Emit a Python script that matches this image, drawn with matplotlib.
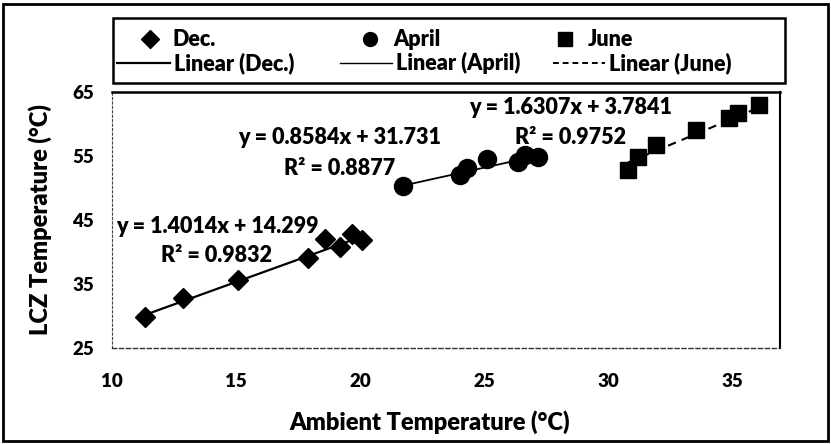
import matplotlib
matplotlib.use("Agg")
import matplotlib.pyplot as plt
from matplotlib.lines import Line2D
from matplotlib.patches import Rectangle
import numpy as np

plt.rcParams['font.family'] = ['Lato', 'DejaVu Sans']
FW = 'heavy'

# Data
dec_x = [11.33, 12.86, 15.08, 17.90, 18.59, 19.19, 19.68, 20.08]
dec_y = [29.84, 32.80, 35.60, 39.06, 42.00, 40.80, 42.80, 41.90]
apr_x = [21.73, 24.03, 24.31, 25.12, 26.33, 26.65, 27.14]
apr_y = [50.31, 52.03, 53.13, 54.53, 54.06, 55.16, 54.84]
jun_x = [30.77, 31.17, 31.90, 33.51, 34.84, 35.20, 36.05]
jun_y = [52.81, 54.84, 56.72, 59.06, 60.94, 61.70, 62.97]

dec_fit = (1.4014, 14.299)
apr_fit = (0.8584, 31.731)
jun_fit = (1.6307, 3.7841)

eq_lines = [("y = 1.4014x + 14.299", "R² = 0.9832"),
            ("y = 0.8584x + 31.731", "R² = 0.8877"),
            ("y = 1.6307x + 3.7841", "R² = 0.9752")]

x_ticks = [10, 15, 20, 25, 30, 35]
y_ticks = [25, 35, 45, 55, 65]

W, H = 831, 444
fig = plt.figure(figsize=(8.31, 4.44), dpi=100)
ax = fig.add_axes([112 / W, 1 - 348 / H, (780 - 112) / W, (348 - 92) / H])

ax.plot(dec_x, dec_y, 'D', color='black', ms=10.5, zorder=3)
ax.plot(apr_x, apr_y, 'o', color='black', ms=13, zorder=3)
ax.plot(jun_x, jun_y, 's', color='black', ms=12, zorder=3)

for xs, (m, b), ls, lw in [(dec_x, dec_fit, '-', 1.6), (apr_x, apr_fit, '-', 1.3),
                           (jun_x, jun_fit, (0, (4, 3)), 1.5)]:
    xx = np.array([min(xs), max(xs)])
    ax.plot(xx, m * xx + b, linestyle=ls, color='black', lw=lw, zorder=2)

ax.set_xlim(10, 36.9)
ax.set_ylim(25, 65)

eq_pos = [(217, 226, 256), (340, 138, 168), (571, 107, 137)]
for (l1, l2), (cx, y1, y2) in zip(eq_lines, eq_pos):
    fig.text(cx / W, 1 - y1 / H, l1, ha='center', va='center', fontsize=15.5, fontweight=FW)
    fig.text(cx / W, 1 - y2 / H, l2, ha='center', va='center', fontsize=15.5, fontweight=FW)

ax.set_xticks(x_ticks)
ax.set_yticks(y_ticks)
ax.tick_params(length=0, labelsize=13.5)
ax.tick_params(axis='x', pad=18)
ax.tick_params(axis='y', pad=13)
for lab in ax.get_xticklabels() + ax.get_yticklabels():
    lab.set_fontweight(FW)

ax.spines['top'].set_linewidth(1.8)
ax.spines['right'].set_linewidth(1.5)
ax.spines['left'].set_linestyle((0, (2, 2)))
ax.spines['left'].set_linewidth(0.8)
ax.spines['left'].set_color('#444444')
ax.spines['bottom'].set_linestyle((0, (3, 2)))
ax.spines['bottom'].set_linewidth(1.0)
ax.spines['bottom'].set_color('#333333')

fig.text(0.517, 1 - 422 / H, 'Ambient Temperature (°C)', ha='center', va='center',
         fontsize=17, fontweight=FW)
fig.text(40 / W, 1 - 220 / H, 'LCZ Temperature (°C)', ha='center', va='center',
         rotation=90, fontsize=17, fontweight=FW)

# legend box drawn by hand in figure pixels
fig.patches.append(Rectangle((113 / W, 1 - 83 / H), (785 - 113) / W, (83 - 18) / H,
                             transform=fig.transFigure, fill=False, edgecolor='black', lw=1.8))
r1, r2 = 1 - 39 / H, 1 - 63 / H
leg_marks = [('D', 9, 150, 'Dec.', 172), ('o', 10, 370, 'April', 393), ('s', 9.5, 565, 'June', 588)]
for mk, s, mx, lab, tx in leg_marks:
    fig.add_artist(Line2D([mx / W], [r1], marker=mk, ms=s, color='black', ls='none',
                          transform=fig.transFigure))
    fig.text(tx / W, r1, lab, ha='left', va='center', fontsize=15.5, fontweight=FW)
leg_lines = [('-', 1.6, 117, 170, 'Linear (Dec.)', 174),
             ('-', 1.0, 340, 392, 'Linear (April)', 396),
             ((0, (3, 2)), 1.4, 553, 605, 'Linear (June)', 609)]
for ls, lw, x0, x1, lab, tx in leg_lines:
    fig.add_artist(Line2D([x0 / W, x1 / W], [r2, r2], ls=ls, lw=lw, color='black',
                          transform=fig.transFigure))
    fig.text(tx / W, r2, lab, ha='left', va='center', fontsize=15.5, fontweight=FW)

fig.patches.append(Rectangle((0.004, 0.006), 0.992, 0.984, transform=fig.transFigure,
                             fill=False, edgecolor='black', lw=2.0))

fig.savefig('out.png', dpi=100)
